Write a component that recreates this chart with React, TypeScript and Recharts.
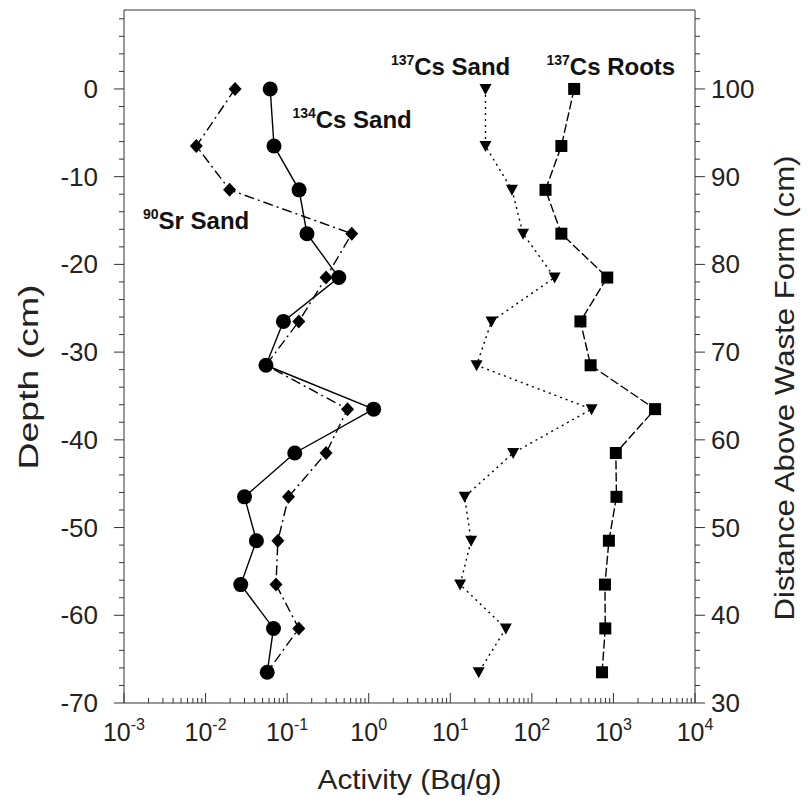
import { ScatterChart, Scatter, XAxis, YAxis, ReferenceDot } from "recharts";

// depth of each sample (cm)
const depths = [0, -6.5, -11.5, -16.5, -21.5, -26.5, -31.5, -36.5, -41.5, -46.5, -51.5, -56.5, -61.5, -66.5];

// activity (Bq/g) per depth
const cs134Sand = [0.062, 0.069, 0.14, 0.175, 0.43, 0.09, 0.055, 1.15, 0.124, 0.03, 0.042, 0.027, 0.068, 0.057];
const sr90Sand = [0.023, 0.0077, 0.0197, 0.62, 0.3, 0.139, 0.055, 0.55, 0.3, 0.104, 0.077, 0.073, 0.139, 0.057];
const cs137Sand = [27, 27, 57, 78, 190, 32, 21, 540, 59, 15, 18, 13.2, 48, 22.3];
const cs137Roots = [330, 230, 147, 230, 840, 394, 525, 3240, 1070, 1090, 880, 787, 795, 725];

const xDecades = [0.001, 0.01, 0.1, 1, 10, 100, 1000, 10000];

const FONT = '"Liberation Sans", Arial, Helvetica, sans-serif';
const AXIS = "#333";
const TXT = "#222";

// minor ticks for the axes
const xTicks: number[] = [];
xDecades.forEach((d, i) => {
  xTicks.push(d);
  if (i < xDecades.length - 1) for (let m = 2; m <= 9; m++) xTicks.push(+(m * d).toPrecision(3));
});
const yTicks: number[] = [];
for (let v = -70; v <= 8; v += 2) yTicks.push(v);

const toPoints = (vals: number[]) => vals.map((v, i) => ({ x: v, y: depths[i] }));

const isDecade = (v: number) => Math.abs(Math.log10(v) - Math.round(Math.log10(v))) < 1e-6;

function BottomTick(props: any) {
  const { x, y, payload } = props;
  const v = payload.value;
  const major = isDecade(v);
  return (
    <g>
      <line x1={x} x2={x} y1={y} y2={y - (major ? 10 : 5)} stroke={AXIS} />
      {major && (
        <text x={x} y={y + 38} textAnchor="middle" fontFamily={FONT} fontSize={25} fill={TXT}>
          <tspan>10</tspan>
          <tspan fontSize={16} dy={-11}>{Math.round(Math.log10(v))}</tspan>
        </text>
      )}
    </g>
  );
}

function TopTick(props: any) {
  const { x, y, payload } = props;
  const major = isDecade(payload.value);
  return <line x1={x} x2={x} y1={y} y2={y + (major ? 10 : 5)} stroke={AXIS} />;
}

function LeftTick(props: any) {
  const { x, y, payload } = props;
  const major = payload.value % 10 === 0;
  return (
    <g>
      <line x1={x} x2={x - (major ? 10 : 5)} y1={y} y2={y} stroke={AXIS} />
      {major && (
        <text x={x - 26} y={y} dy="0.35em" textAnchor="end" fontFamily={FONT} fontSize={26} fill={TXT}>
          {payload.value}
        </text>
      )}
    </g>
  );
}

function RightTick(props: any) {
  const { x, y, payload } = props;
  const major = payload.value % 10 === 0;
  return (
    <g>
      <line x1={x} x2={x + (major ? 10 : 5)} y1={y} y2={y} stroke={AXIS} />
      {major && (
        <text x={x + 16} y={y} dy="0.35em" textAnchor="start" fontFamily={FONT} fontSize={26} fill={TXT}>
          {payload.value + 100}
        </text>
      )}
    </g>
  );
}

// vertical axis title, centred on (vb.x + dx, cy)
function sideTitle(text: string, dx: number, cy: number, len: number) {
  return (p: any) => {
    const cx = p.viewBox.x + dx;
    return (
      <text
        x={cx}
        y={cy}
        dy="0.35em"
        transform={`rotate(-90 ${cx} ${cy})`}
        textAnchor="middle"
        fontFamily={FONT}
        fontSize={28}
        fill={TXT}
        textLength={len}
        lengthAdjust="spacingAndGlyphs"
      >
        {text}
      </text>
    );
  };
}

// markers
const Dot = (p: any) => <circle cx={p.cx} cy={p.cy} r={7.5} fill="#000" />;
const Diamond = (p: any) => (
  <polygon points={`${p.cx},${p.cy - 7} ${p.cx + 6.5},${p.cy} ${p.cx},${p.cy + 7} ${p.cx - 6.5},${p.cy}`} fill="#000" />
);
const Square = (p: any) => <rect x={p.cx - 6} y={p.cy - 6} width={12} height={12} fill="#000" />;
const TriDown = (p: any) => (
  <polygon points={`${p.cx - 6},${p.cy - 5} ${p.cx + 6},${p.cy - 5} ${p.cx},${p.cy + 6}`} fill="#000" />
);

function Tag(sup: string, name: string) {
  return (p: any) => (
    <text x={p.cx} y={p.cy} fontFamily={FONT} fontWeight="bold" fontSize={24} fill="#111">
      <tspan fontSize={14} dy={-10}>{sup}</tspan>
      <tspan dy={10}>{name}</tspan>
    </text>
  );
}

export default function App() {
  return (
    <div style={{ position: "absolute", left: 0, top: 0 }}>
      <ScatterChart width={808} height={803} margin={{ top: 10, right: 0, left: 0, bottom: 0 }}>
        <XAxis
          xAxisId="main"
          type="number"
          dataKey="x"
          scale="log"
          domain={[0.001, 10000]}
          allowDataOverflow
          ticks={xTicks}
          interval={0}
          tick={<BottomTick />}
          tickLine={false}
          tickSize={0}
          tickMargin={0}
          height={100}
          stroke={AXIS}
          label={{
            content: (p: any) => {
              const vb = p.viewBox;
              return (
                <text
                  x={vb.x + vb.width / 2}
                  y={vb.y + 86}
                  textAnchor="middle"
                  fontFamily={FONT}
                  fontSize={28}
                  fill={TXT}
                  textLength={184}
                  lengthAdjust="spacingAndGlyphs"
                >
                  Activity (Bq/g)
                </text>
              );
            },
          }}
        />
        <XAxis
          xAxisId="top"
          orientation="top"
          mirror
          type="number"
          scale="log"
          domain={[0.001, 10000]}
          allowDataOverflow
          ticks={xTicks}
          interval={0}
          tick={<TopTick />}
          tickLine={false}
          tickSize={0}
          tickMargin={0}
          stroke={AXIS}
        />
        <YAxis
          yAxisId="main"
          type="number"
          dataKey="y"
          domain={[-70, 9]}
          allowDataOverflow
          ticks={yTicks}
          interval={0}
          tick={<LeftTick />}
          tickLine={false}
          tickSize={0}
          tickMargin={0}
          width={124}
          stroke={AXIS}
          label={{ content: sideTitle("Depth (cm)", 28, 377, 185) }}
        />
        <YAxis
          yAxisId="right"
          orientation="right"
          type="number"
          domain={[-70, 9]}
          allowDataOverflow
          ticks={yTicks}
          interval={0}
          tick={<RightTick />}
          tickLine={false}
          tickSize={0}
          tickMargin={0}
          width={113}
          stroke={AXIS}
          label={{ content: sideTitle("Distance Above Waste Form (cm)", 89, 388, 465) }}
        />

        <Scatter
          xAxisId="main"
          yAxisId="main"
          data={toPoints(sr90Sand)}
          line={{ stroke: "#000", strokeWidth: 1.4, strokeDasharray: "10 4 2 4" }}
          lineType="joint"
          shape={Diamond}
          isAnimationActive={false}
        />
        <Scatter
          xAxisId="main"
          yAxisId="main"
          data={toPoints(cs134Sand)}
          line={{ stroke: "#000", strokeWidth: 1.4 }}
          lineType="joint"
          shape={Dot}
          isAnimationActive={false}
        />
        <Scatter
          xAxisId="main"
          yAxisId="main"
          data={toPoints(cs137Sand)}
          line={{ stroke: "#000", strokeWidth: 1.4, strokeDasharray: "2 4" }}
          lineType="joint"
          shape={TriDown}
          isAnimationActive={false}
        />
        <Scatter
          xAxisId="main"
          yAxisId="main"
          data={toPoints(cs137Roots)}
          line={{ stroke: "#000", strokeWidth: 1.4, strokeDasharray: "9 3" }}
          lineType="joint"
          shape={Square}
          isAnimationActive={false}
        />

        <ReferenceDot xAxisId="main" yAxisId="main" x={0.00171} y={-16.0} r={0} ifOverflow="visible" shape={Tag("90", "Sr Sand")} />
        <ReferenceDot xAxisId="main" yAxisId="main" x={0.116} y={-4.5} r={0} ifOverflow="visible" shape={Tag("134", "Cs Sand")} />
        <ReferenceDot xAxisId="main" yAxisId="main" x={1.87} y={1.6} r={0} ifOverflow="visible" shape={Tag("137", "Cs Sand")} />
        <ReferenceDot xAxisId="main" yAxisId="main" x={151} y={1.6} r={0} ifOverflow="visible" shape={Tag("137", "Cs Roots")} />
      </ScatterChart>
    </div>
  );
}
